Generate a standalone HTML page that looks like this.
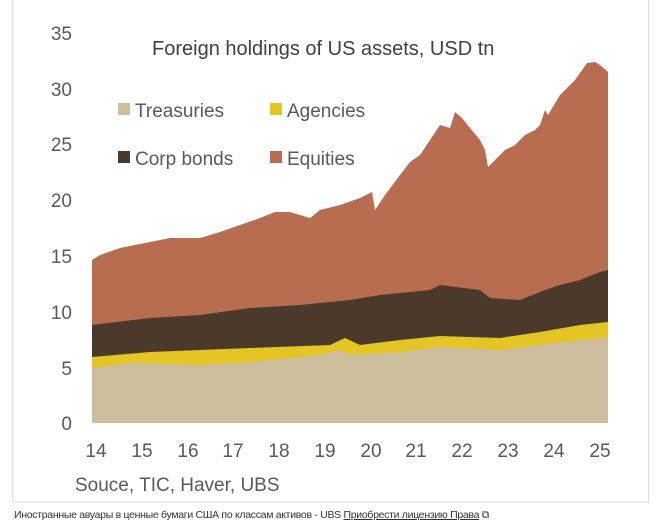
<!DOCTYPE html>
<html><head><meta charset="utf-8"><style>
body{margin:0;background:#fff;width:661px;height:528px;overflow:hidden;font-family:"Liberation Sans","DejaVu Sans",sans-serif}
svg{position:absolute;left:0;top:0}
.cap{position:absolute;left:14px;top:509px;font-size:10.5px;color:#333;letter-spacing:-0.3px}
.cap u{color:#333}
</style></head><body>
<svg width="661" height="528" viewBox="0 0 661 528">
<rect x="12.5" y="-1" width="636" height="503" fill="none" stroke="#dcdcdc"/>
<g fill="#595959" font-family="Liberation Sans, sans-serif" font-size="19">
<g text-anchor="end">
<text x="72" y="430">0</text><text x="72" y="375">5</text><text x="72" y="319">10</text>
<text x="72" y="263">15</text><text x="72" y="207">20</text><text x="72" y="151">25</text>
<text x="72" y="96">30</text><text x="72" y="40">35</text></g>
<g text-anchor="middle">
<text x="96" y="457">14</text><text x="142" y="457">15</text><text x="188" y="457">16</text>
<text x="233" y="457">17</text><text x="279" y="457">18</text><text x="325" y="457">19</text>
<text x="371" y="457">20</text><text x="416" y="457">21</text><text x="462" y="457">22</text>
<text x="508" y="457">23</text><text x="554" y="457">24</text><text x="600" y="457">25</text></g>
<text x="75" y="491">Souce, TIC, Haver, UBS</text>
<text x="152" y="55" font-size="20" fill="#404040">Foreign holdings of US assets, USD tn</text>
</g>
<polygon fill="#b86d50" points="92,423 92,260 100,255 120,248 150,242 170,238 200,238 220,232 240,225 260,218 275,212 290,212 310,218 320,210 340,205 360,198 372,192 375,210 385,195 400,175 410,162 420,155 430,140 440,125 450,128 455,112 462,118 470,128 480,140 485,150 488,167 495,160 505,150 515,145 525,135 535,130 540,125 545,110 548,115 560,95 575,80 587,63 595,62 600,65 606,70 608,72 608,423"/>
<polygon fill="#4b3a2c" points="92,423 92,325 150,318 200,315 250,308 300,305 350,300 380,295 430,290 440,285 480,290 490,298 520,300 545,290 560,285 580,280 600,272 608,270 608,423"/>
<polygon fill="#e3c523" points="92,423 92,357 150,352 250,348 330,345 345,338 360,345 400,340 440,336 500,338 540,332 580,325 608,322 608,423"/>
<polygon fill="#cdbd9d" points="92,423 92,368 130,363 200,365 250,362 320,355 340,350 350,355 400,352 440,347 500,350 540,345 580,340 608,338 608,423"/>
<g font-size="19" fill="#595959">
<rect x="118" y="103" width="12" height="12" fill="#cdbd9d"/><text x="135" y="117">Treasuries</text>
<rect x="270" y="103" width="12" height="12" fill="#e3c523"/><text x="287" y="117">Agencies</text>
<rect x="118" y="151" width="12" height="12" fill="#4b3a2c"/><text x="135" y="165">Corp bonds</text>
<rect x="270" y="151" width="12" height="12" fill="#b86d50"/><text x="287" y="165">Equities</text>
</g>
</svg>
<div class="cap">Иностранные авуары в ценные бумаги США по классам активов - UBS <u>Приобрести лицензию Права</u> ⧉</div>
</body></html>
